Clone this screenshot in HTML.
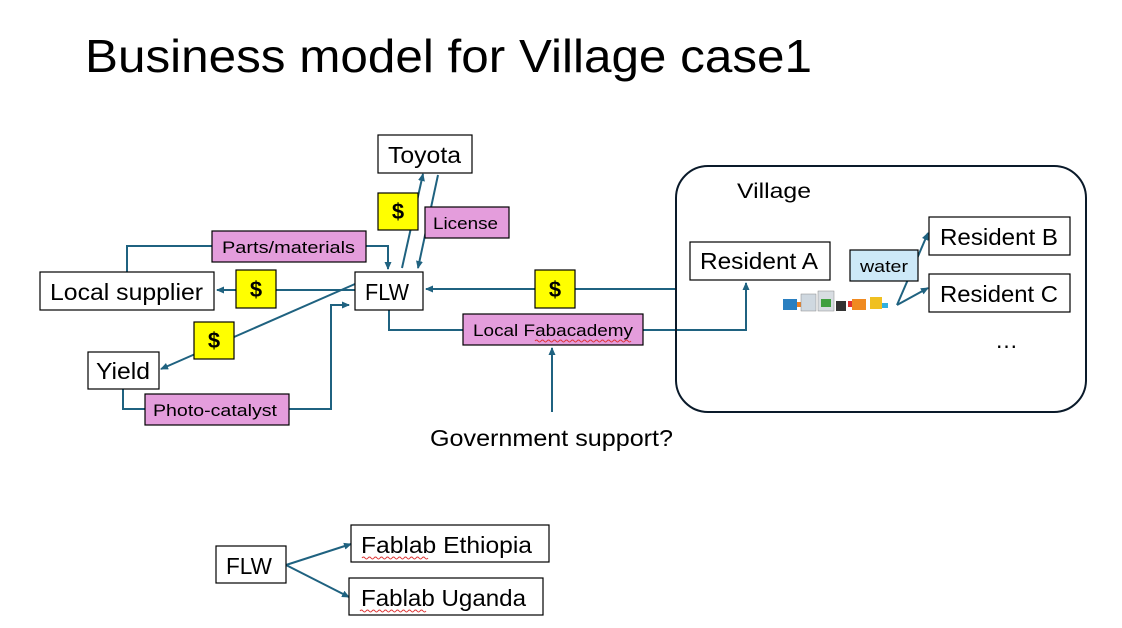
<!DOCTYPE html>
<html><head><meta charset="utf-8"><style>
html,body{margin:0;padding:0;background:#fff;}
svg{display:block;font-family:"Liberation Sans","DejaVu Sans",sans-serif;}
</style></head><body>
<svg width="1122" height="628" viewBox="0 0 1122 628" xmlns="http://www.w3.org/2000/svg">
<defs>
<marker id="a" markerWidth="8" markerHeight="8" refX="7" refY="4" orient="auto" markerUnits="userSpaceOnUse">
<path d="M0,0.5 L8,4 L0,7.5 Z" fill="#1f6280"/></marker>
</defs>
<text x="85" y="72" font-size="46" textLength="727" lengthAdjust="spacingAndGlyphs">Business model for Village case1</text>

<g stroke="#1f6280" stroke-width="2" fill="none">
<polyline points="127,272 127,246 388,246 388,269" marker-end="url(#a)"/>
<line x1="355" y1="290" x2="217" y2="290" marker-end="url(#a)"/>
<line x1="676" y1="289" x2="426" y2="289" marker-end="url(#a)"/>
<polyline points="389,310 389,330 746,330 746,283" marker-end="url(#a)"/>
<line x1="552" y1="412" x2="552" y2="348" marker-end="url(#a)"/>
<line x1="355" y1="284" x2="161" y2="369" marker-end="url(#a)"/>
<polyline points="123,389 123,409 331,409 331,305 349,305" marker-end="url(#a)"/>
<line x1="402" y1="268" x2="423" y2="174" marker-end="url(#a)"/>
<line x1="438" y1="175" x2="418" y2="268" marker-end="url(#a)"/>
<polyline points="897,305 928,233" marker-end="url(#a)"/>
<line x1="897" y1="305" x2="928" y2="288" marker-end="url(#a)"/>
<line x1="286" y1="565" x2="351" y2="544" marker-end="url(#a)"/>
<line x1="286" y1="565" x2="349" y2="597" marker-end="url(#a)"/>
</g>

<rect x="676" y="166" width="410" height="246" rx="32" fill="none" stroke="#0a1a2a" stroke-width="2"/>
<text x="737" y="198" font-size="21" textLength="74" lengthAdjust="spacingAndGlyphs">Village</text>

<g stroke="#000" stroke-width="1.2">
<rect x="378" y="135" width="94" height="38" fill="#fff"/>
<rect x="40" y="272" width="174" height="38" fill="#fff"/>
<rect x="355" y="272" width="68" height="38" fill="#fff"/>
<rect x="88" y="352" width="71" height="37" fill="#fff"/>
<rect x="690" y="242" width="140" height="38" fill="#fff"/>
<rect x="929" y="217" width="141" height="38" fill="#fff"/>
<rect x="929" y="274" width="141" height="38" fill="#fff"/>
<rect x="216" y="546" width="70" height="37" fill="#fff"/>
<rect x="351" y="525" width="198" height="37" fill="#fff"/>
<rect x="349" y="578" width="194" height="37" fill="#fff"/>
<rect x="378" y="193" width="40" height="37" fill="#ffff00"/>
<rect x="236" y="270" width="40" height="38" fill="#ffff00"/>
<rect x="535" y="270" width="40" height="38" fill="#ffff00"/>
<rect x="194" y="322" width="40" height="37" fill="#ffff00"/>
<rect x="425" y="207" width="84" height="31" fill="#e49ddc"/>
<rect x="212" y="231" width="154" height="31" fill="#e49ddc"/>
<rect x="463" y="314" width="180" height="31" fill="#e49ddc"/>
<rect x="145" y="394" width="144" height="31" fill="#e49ddc"/>
<rect x="850" y="250" width="68" height="31" fill="#cde9f8"/>
</g>

<g font-size="23" lengthAdjust="spacingAndGlyphs">
<text x="388" y="163" textLength="73" lengthAdjust="spacingAndGlyphs">Toyota</text>
<text x="50" y="300" textLength="153" lengthAdjust="spacingAndGlyphs">Local supplier</text>
<text x="365" y="300" textLength="44" lengthAdjust="spacingAndGlyphs">FLW</text>
<text x="96" y="379" textLength="54" lengthAdjust="spacingAndGlyphs">Yield</text>
<text x="700" y="269" textLength="118" lengthAdjust="spacingAndGlyphs">Resident A</text>
<text x="940" y="245" textLength="118" lengthAdjust="spacingAndGlyphs">Resident B</text>
<text x="940" y="302" textLength="118" lengthAdjust="spacingAndGlyphs">Resident C</text>
<text x="995" y="348">…</text>
<text x="430" y="446" textLength="243" lengthAdjust="spacingAndGlyphs">Government support?</text>
<text x="226" y="574" textLength="46" lengthAdjust="spacingAndGlyphs">FLW</text>
<text x="361" y="553" textLength="171" lengthAdjust="spacingAndGlyphs">Fablab Ethiopia</text>
<text x="361" y="606" textLength="165" lengthAdjust="spacingAndGlyphs">Fablab Uganda</text>
</g>
<g font-size="22" font-weight="bold" text-anchor="middle">
<text x="398" y="219">$</text>
<text x="256" y="297">$</text>
<text x="555" y="297">$</text>
<text x="214" y="348">$</text>
</g>
<g font-size="17">
<text x="433" y="229" textLength="65" lengthAdjust="spacingAndGlyphs">License</text>
<text x="222" y="253" textLength="133" lengthAdjust="spacingAndGlyphs">Parts/materials</text>
<text x="473" y="336" textLength="160" lengthAdjust="spacingAndGlyphs">Local Fabacademy</text>
<text x="153" y="416" textLength="124" lengthAdjust="spacingAndGlyphs">Photo-catalyst</text>
<text x="860" y="272" textLength="48" lengthAdjust="spacingAndGlyphs">water</text>
</g>
<g stroke="#d33" stroke-width="1" fill="none">
<path d="M535,341 q1.5,-2 3,0 t3,0 t3,0 t3,0 t3,0 t3,0 t3,0 t3,0 t3,0 t3,0 t3,0 t3,0 t3,0 t3,0 t3,0 t3,0 t3,0 t3,0 t3,0 t3,0 t3,0 t3,0 t3,0 t3,0 t3,0 t3,0 t3,0 t3,0 t3,0 t3,0 t3,0 t3,0"/>
<path d="M362,558 q1.5,-2 3,0 t3,0 t3,0 t3,0 t3,0 t3,0 t3,0 t3,0 t3,0 t3,0 t3,0 t3,0 t3,0 t3,0 t3,0 t3,0 t3,0 t3,0 t3,0 t3,0 t3,0 t3,0"/>
<path d="M360,611 q1.5,-2 3,0 t3,0 t3,0 t3,0 t3,0 t3,0 t3,0 t3,0 t3,0 t3,0 t3,0 t3,0 t3,0 t3,0 t3,0 t3,0 t3,0 t3,0 t3,0 t3,0 t3,0 t3,0"/>
</g>

<g>
<rect x="783" y="299" width="14" height="11" fill="#2a7fc0"/>
<rect x="797" y="302" width="4" height="5" fill="#f08020"/>
<rect x="801" y="294" width="15" height="17" fill="#cfd8e0" stroke="#888" stroke-width="0.5"/>
<rect x="818" y="291" width="16" height="20" fill="#d8dde2" stroke="#888" stroke-width="0.5"/>
<rect x="821" y="299" width="10" height="8" fill="#40a040"/>
<rect x="836" y="301" width="10" height="10" fill="#333"/>
<rect x="848" y="301" width="4" height="6" fill="#e03030"/>
<rect x="852" y="299" width="14" height="11" fill="#f08a20"/>
<rect x="870" y="297" width="12" height="12" fill="#f0c020"/>
<rect x="882" y="303" width="6" height="5" fill="#30b0e0"/>
</g>
</svg>
</body></html>
